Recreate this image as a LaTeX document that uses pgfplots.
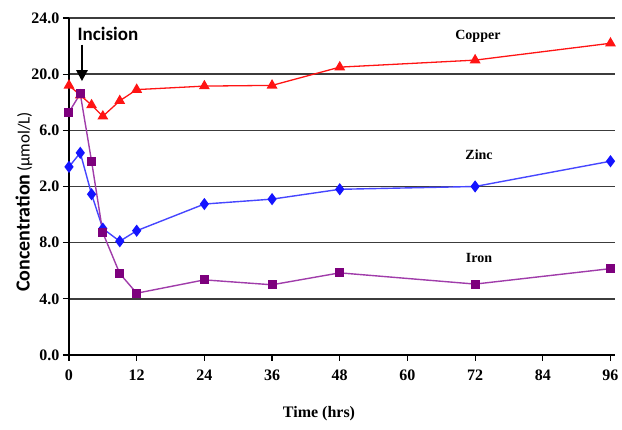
\documentclass[border=0pt]{standalone}
\usepackage{fontspec}
\setmainfont{Liberation Serif}
\newfontfamily\calib{Carlito}
\usepackage{pgfplots}
\pgfplotsset{compat=1.18}
\usetikzlibrary{arrows.meta}
\definecolor{cu}{RGB}{255,20,20}
\definecolor{zn}{RGB}{20,20,255}
\definecolor{znl}{RGB}{70,70,255}
\definecolor{fe}{RGB}{125,0,125}
\definecolor{fel}{RGB}{160,60,170}
\definecolor{gridc}{RGB}{60,60,60}
\begin{document}
\begin{tikzpicture}
\useasboundingbox (-69pt,-75pt) rectangle (553pt,355pt);
\begin{axis}[
  scale only axis,
  width=546pt, height=337pt,
  xmin=0, xmax=96.8, ymin=0, ymax=24,
  axis x line*=bottom, axis y line*=left,
  axis line style={black, line width=1.8pt},
  tick align=outside, tick pos=left,
  major tick length=6pt,
  tick style={black, line width=1.2pt},
  xtick={0,12,24,36,48,60,72,84,96},
  xticklabels={0,12,24,36,48,60,72,84,96},
  ytick={0,4,8,12,16,20,24},
  yticklabels={0.0,4.0,8.0,2.0,6.0,20.0,24.0},
  ticklabel style={font=\fontsize{16}{18}\selectfont\bfseries},
  xticklabel style={yshift=-5pt},
  ymajorgrids,
  major grid style={gridc, line width=1.5pt},
  clip=false,
]
\addplot[cu, line width=1.3pt, mark=triangle*, mark size=5pt, mark options={solid, fill=cu, draw=cu}]
coordinates {(0,19.2) (2,18.5) (4,17.8) (6,17.0) (9,18.1) (12,18.9) (24,19.15) (36,19.2) (48,20.5) (72,21.0) (96,22.2)};
\addplot[znl, line width=1.4pt, mark=diamond*, mark size=5pt, mark options={solid, fill=zn, draw=zn}]
coordinates {(0,13.4) (2,14.4) (4,11.45) (6,9.0) (9,8.1) (12,8.85) (24,10.75) (36,11.1) (48,11.8) (72,12.0) (96,13.8)};
\addplot[fel, line width=1.4pt, mark=square*, mark size=3.8pt, mark options={solid, fill=fe, draw=fe}]
coordinates {(0,17.3) (2,18.6) (4,13.8) (6,8.7) (9,5.8) (12,4.4) (24,5.35) (36,5.0) (48,5.85) (72,5.05) (96,6.15)};
\node[font=\fontsize{14}{16}\selectfont\bfseries] at (axis cs:72.5,22.7) {Copper};
\node[font=\fontsize{14}{16}\selectfont\bfseries] at (axis cs:72.7,14.25) {Zinc};
\node[font=\fontsize{14}{16}\selectfont\bfseries] at (axis cs:72.7,6.9) {Iron};
\node[font=\calib\fontsize{19}{21}\selectfont\bfseries] at (axis cs:6.9,22.9) {Incision};
\draw[black, line width=2.5pt, -{Triangle[length=11pt,width=11pt]}] (axis cs:2.3,22.1) -- (axis cs:2.3,19.5);
\end{axis}
\node[rotate=90] at (-45pt,153pt) {{\calib\fontsize{20}{22}\selectfont\bfseries Concentration} {\calib\fontsize{17}{19}\selectfont (µmol/L)}};
\node[font=\fontsize{16}{18}\selectfont\bfseries] at (250pt,-59pt) {Time (hrs)};
\end{tikzpicture}
\end{document}
